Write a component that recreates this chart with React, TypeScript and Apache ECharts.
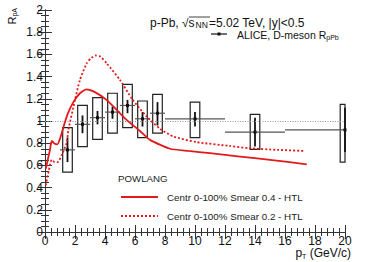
import React, { useEffect, useRef } from "react";
import * as echarts from "echarts";

// ALICE D-meson R_pPb data
const ptCenters = [1.5, 2.5, 3.5, 4.5, 5.5, 6.5, 7.5, 10, 14, 20];
const binLow = [1, 2, 3, 4, 5, 6, 7, 8, 12, 16];
const binHigh = [2, 3, 4, 5, 6, 7, 8, 12, 16, 24];
const rpPb = [0.74, 0.97, 1.03, 1.08, 1.14, 1.02, 1.07, 1.02, 0.9, 0.92];
const statLow = [0.63, 0.89, 0.97, 1.02, 1.07, 0.95, 0.96, 0.95, 0.77, 0.72];
const statHigh = [0.85, 1.05, 1.09, 1.13, 1.19, 1.08, 1.17, 1.08, 1.03, 1.12];
const systLow = [0.54, 0.77, 0.835, 0.89, 0.94, 0.85, 0.89, 0.85, 0.745, 0.63];
const systHigh = [0.94, 1.14, 1.21, 1.25, 1.33, 1.18, 1.24, 1.17, 1.06, 1.15];

// POWLANG curves
const smear04X = [0.05, 0.2, 0.33, 0.45, 0.6, 0.82, 1.0, 1.22, 1.5, 1.89, 2.33, 2.75, 3.33, 4.1, 4.78, 5.44, 6.33, 7.0, 8.33, 9.56, 11, 13, 15, 17.45];
const smear04Y = [0.57, 0.66, 0.74, 0.82, 0.8, 0.79, 0.84, 0.94, 1.06, 1.17, 1.25, 1.285, 1.26, 1.19, 1.1, 1.01, 0.91, 0.83, 0.75, 0.73, 0.71, 0.68, 0.65, 0.61];
const smear02X = [0.05, 0.25, 0.45, 0.65, 0.85, 1.1, 1.44, 1.56, 2.0, 2.33, 2.78, 3.1, 3.38, 3.7, 4.11, 5.0, 5.8, 6.78, 7.67, 8.55, 10.1, 12.33, 13.56, 15.5, 17.33];
const smear02Y = [0.42, 0.55, 0.65, 0.63, 0.63, 0.69, 0.8, 0.92, 1.19, 1.37, 1.52, 1.57, 1.59, 1.58, 1.52, 1.37, 1.2, 1.04, 0.93, 0.86, 0.81, 0.775, 0.755, 0.74, 0.73];

const RED = "#e3191c";
const FONT = "'Liberation Sans', Arial, Helvetica, sans-serif";

export default function App() {
  const ref = useRef<HTMLDivElement>(null);
  useEffect(() => {
    if (!ref.current) return;
    const chart = echarts.init(ref.current, undefined, { renderer: "svg" });

    const boxData = ptCenters.map((x, i) => [x, systLow[i], systHigh[i]]);
    const errData = ptCenters.map((x, i) => [x, rpPb[i], binLow[i], binHigh[i], statLow[i], statHigh[i]]);

    const axisCommon = {
      type: "value" as const,
      axisLine: { show: true, lineStyle: { color: "#333", width: 1 } },
      splitLine: { show: false },
      axisTick: { show: true, inside: true, length: 7, lineStyle: { color: "#333" } },
      minorTick: { show: true, length: 4, lineStyle: { color: "#333" } },
    };

    chart.setOption({
      animation: false,
      grid: { left: 45, right: 29, top: 10, bottom: 30 },
      xAxis: [
        {
          ...axisCommon,
          min: 0, max: 20, interval: 2,
          minorTick: { ...axisCommon.minorTick, splitNumber: 5 },
          axisLabel: { color: "#111", fontSize: 12, lineHeight: 11, fontFamily: FONT, margin: 3 },
        },
        {
          ...axisCommon,
          position: "top",
          min: 0, max: 20, interval: 2,
          minorTick: { ...axisCommon.minorTick, splitNumber: 5 },
          axisLabel: { show: false },
        },
      ],
      yAxis: [
        {
          ...axisCommon,
          min: 0, max: 2, interval: 0.2,
          minorTick: { ...axisCommon.minorTick, splitNumber: 4 },
          axisLabel: { color: "#111", fontSize: 12, fontFamily: FONT, margin: 2 },
        },
        {
          ...axisCommon,
          position: "right",
          min: 0, max: 2, interval: 0.2,
          minorTick: { ...axisCommon.minorTick, splitNumber: 4 },
          axisLabel: { show: false },
        },
      ],
      graphic: [
        {
          type: "text", x: 150, y: 22.5,
          style: {
            text: "{a|p-Pb, √s}{sub|NN}{a|=5.02 TeV, |y|<0.5}", textVerticalAlign: "middle",
            rich: {
              a: { fontSize: 12, lineHeight: 12, fontFamily: FONT, fill: "#111" },
              sub: { fontSize: 8.5, lineHeight: 8, fontFamily: FONT, fill: "#111", padding: [4, 1, 0, 1] },
            },
          },
        },
        { type: "line", shape: { x1: 189, y1: 17, x2: 210, y2: 17 }, style: { stroke: "#111", lineWidth: 0.8 } },
        {
          type: "text", x: 12, y: 8, rotation: Math.PI / 2,
          style: {
            text: "{a|R}{b|pA}", textAlign: "right", textVerticalAlign: "middle",
            rich: {
              a: { fontSize: 11, fontFamily: FONT, fill: "#111" },
              b: { fontSize: 7, fontFamily: FONT, fill: "#111", padding: [5, 0, 0, 0] },
            },
          },
        },
        {
          type: "text", x: 351, y: 253,
          style: {
            text: "{a|p}{b|T}{a| (GeV/c)}", textAlign: "right", textVerticalAlign: "middle",
            rich: {
              a: { fontSize: 12, fontFamily: FONT, fill: "#111" },
              b: { fontSize: 7, fontFamily: FONT, fill: "#111", padding: [6, 0, 0, 0] },
            },
          },
        },
        // ALICE legend
        { type: "line", shape: { x1: 211, y1: 34, x2: 227, y2: 34 }, style: { stroke: "#111", lineWidth: 1.2 } },
        { type: "rect", shape: { x: 217.5, y: 32.5, width: 3, height: 3 }, style: { fill: "#111" } },
        {
          type: "text", x: 237, y: 35,
          style: {
            text: "{a|ALICE, D-meson R}{b|pPb}", textVerticalAlign: "middle",
            rich: {
              a: { fontSize: 10.5, lineHeight: 10, fontFamily: FONT, fill: "#111" },
              b: { fontSize: 7, lineHeight: 6, fontFamily: FONT, fill: "#111", padding: [4, 0, 0, 0] },
            },
          },
        },
        // POWLANG legend
        { type: "text", x: 118, y: 178, style: { text: "POWLANG", fontSize: 9.7, fontFamily: FONT, fill: "#222", textVerticalAlign: "middle" } },
        { type: "line", shape: { x1: 121, y1: 197, x2: 158, y2: 197 }, style: { stroke: RED, lineWidth: 1.8 } },
        { type: "text", x: 167, y: 197, style: { text: "Centr 0-100% Smear 0.4 - HTL", fontSize: 9.8, fontFamily: FONT, fill: "#222", textVerticalAlign: "middle" } },
        { type: "line", shape: { x1: 121, y1: 216, x2: 158, y2: 216 }, style: { stroke: RED, lineWidth: 1.8, lineDash: [2, 2] } },
        { type: "text", x: 167, y: 216, style: { text: "Centr 0-100% Smear 0.2 - HTL", fontSize: 9.8, fontFamily: FONT, fill: "#222", textVerticalAlign: "middle" } },
      ],
      series: [
        {
          type: "line",
          data: [],
          silent: true,
          markLine: {
            silent: true,
            symbol: "none",
            label: { show: false },
            lineStyle: { color: "#999", type: [1, 1.5], width: 1 },
            data: [[{ coord: [0, 1] }, { coord: [20, 1] }]],
          },
        },
        {
          type: "custom",
          name: "syst",
          data: boxData,
          z: 3,
          renderItem: (params: any, api: any) => {
            const hw = 0.32;
            const x = api.value(0);
            const p1 = api.coord([x - hw, api.value(2)]);
            const p2 = api.coord([x + hw, api.value(1)]);
            const cs = params.coordSys;
            const rect = echarts.graphic.clipRectByRect(
              { x: p1[0], y: p1[1], width: p2[0] - p1[0], height: p2[1] - p1[1] },
              { x: cs.x, y: cs.y, width: cs.width, height: cs.height }
            );
            if (!rect) return null;
            return { type: "rect", shape: rect, style: { fill: "none", stroke: "#222", lineWidth: 1.2 } };
          },
        },
        {
          type: "custom",
          name: "ALICE, D-meson RpPb",
          data: errData,
          z: 4,
          renderItem: (params: any, api: any) => {
            const cs = params.coordSys;
            const c = api.coord([api.value(0), api.value(1)]);
            const l = api.coord([api.value(2), api.value(1)]);
            const r = api.coord([api.value(3), api.value(1)]);
            const lo = api.coord([api.value(0), api.value(4)]);
            const hi = api.coord([api.value(0), api.value(5)]);
            const xr = Math.min(r[0], cs.x + cs.width);
            return {
              type: "group",
              children: [
                { type: "line", shape: { x1: l[0], y1: c[1], x2: xr, y2: c[1] }, style: { stroke: "#555", lineWidth: 1.2 } },
                { type: "line", shape: { x1: c[0], y1: lo[1], x2: c[0], y2: hi[1] }, style: { stroke: "#111", lineWidth: 1.8 } },
                { type: "rect", shape: { x: c[0] - 1.5, y: c[1] - 1.5, width: 3, height: 3 }, style: { fill: "#111" } },
              ],
            };
          },
        },
        {
          type: "line",
          name: "Centr 0-100% Smear 0.4 - HTL",
          data: smear04X.map((x, i) => [x, smear04Y[i]]),
          showSymbol: false,
          smooth: 0.2,
          z: 5,
          lineStyle: { color: RED, width: 1.8 },
        },
        {
          type: "line",
          name: "Centr 0-100% Smear 0.2 - HTL",
          data: smear02X.map((x, i) => [x, smear02Y[i]]),
          showSymbol: false,
          smooth: 0.2,
          z: 5,
          lineStyle: { color: RED, width: 1.8, type: [2, 2] },
        },
      ],
    });
    return () => chart.dispose();
  }, []);
  return <div ref={ref} style={{ width: 374, height: 262, position: "absolute", left: 0, top: 0, background: "#fff" }} />;
}
